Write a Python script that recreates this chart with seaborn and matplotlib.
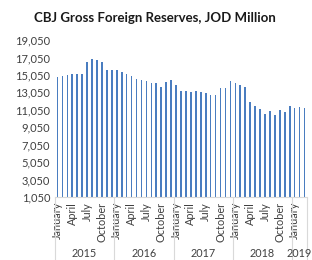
import numpy as np
import pandas as pd
import seaborn as sns
from matplotlib import pyplot as plt
from matplotlib import transforms

month_names = ['January', 'February', 'March', 'April', 'May', 'June', 'July',
               'August', 'September', 'October', 'November', 'December']
years = [2015] * 12 + [2016] * 12 + [2017] * 12 + [2018] * 12 + [2019] * 3
months = month_names * 4 + month_names[:3]
reserves = [14820, 14890, 15000, 15200, 15165, 15165, 16545, 16925, 16730, 16500, 15580, 15660,
            15580, 15430, 15120, 14890, 14625, 14430, 14395, 14165, 14165, 13700, 14245, 14475,
            13935, 13245, 13245, 13050, 13245, 13050, 12935, 12750, 12705, 13590, 13510, 14360,
            14165, 13855, 13625, 11980, 11520, 11140, 10600, 10945, 10450, 10980, 10795, 11440,
            11290, 11325, 11210]
year_labels = ['2015', '2016', '2017', '2018', '2019']
shown_months = ['January', 'April', 'July', 'October']

df = pd.DataFrame({'year': years, 'month': months, 'value': reserves})
df['idx'] = np.arange(len(df))

sns.set_style('white')
plt.rcParams['font.family'] = ['Lato', 'DejaVu Sans']

fig = plt.figure(figsize=(3.12, 2.6), dpi=100)
ax = fig.add_axes([55 / 312, 63 / 260, 252 / 312, 157 / 260])

sns.barplot(data=df, x='idx', y='value', color='#4A7DC0',
            width=0.34, saturation=1, linewidth=0, ax=ax)

ax.set_ylim(1050, 19050)
ax.set_yticks(np.arange(1050, 19051, 2000))
ax.set_yticklabels([f'{v:,}' for v in range(1050, 19051, 2000)], fontsize=8, color='#404040')
ax.set_xlim(-0.5, len(df) - 0.5)

pos = [i for i, m in enumerate(df['month']) if m in shown_months]
ax.set_xticks(pos)
ax.set_xticklabels([df['month'][i] for i in pos], rotation=90, fontsize=7.8, color='#404040')
ax.tick_params(length=0, pad=3.5)
ax.set_xlabel('')
ax.set_ylabel('')
for s in ['top', 'right', 'left']:
    ax.spines[s].set_visible(False)
ax.spines['bottom'].set_color('#d9d9d9')
ax.spines['bottom'].set_linewidth(0.8)

# year groups under the month labels
trans = transforms.blended_transform_factory(ax.transData, ax.transAxes)
starts = [0, 12, 24, 36, 48]
ends = [12, 24, 36, 48, 51]
for b in [-0.5] + [e - 0.5 for e in ends]:
    ax.plot([b, b], [0, -0.41], transform=trans, color='#d9d9d9', lw=0.8, clip_on=False)
for lab, s, e in zip(year_labels, starts, ends):
    ax.text((s + e - 1) / 2, -0.362, lab, transform=trans, ha='center', va='center',
            fontsize=7.8, color='#404040')

fig.text(0.497, 0.93, 'CBJ Gross Foreign Reserves, JOD Million', ha='center', va='center',
         fontsize=9.5, fontweight='bold', color='#1a1a1a')

fig.savefig('out.png', dpi=100)
